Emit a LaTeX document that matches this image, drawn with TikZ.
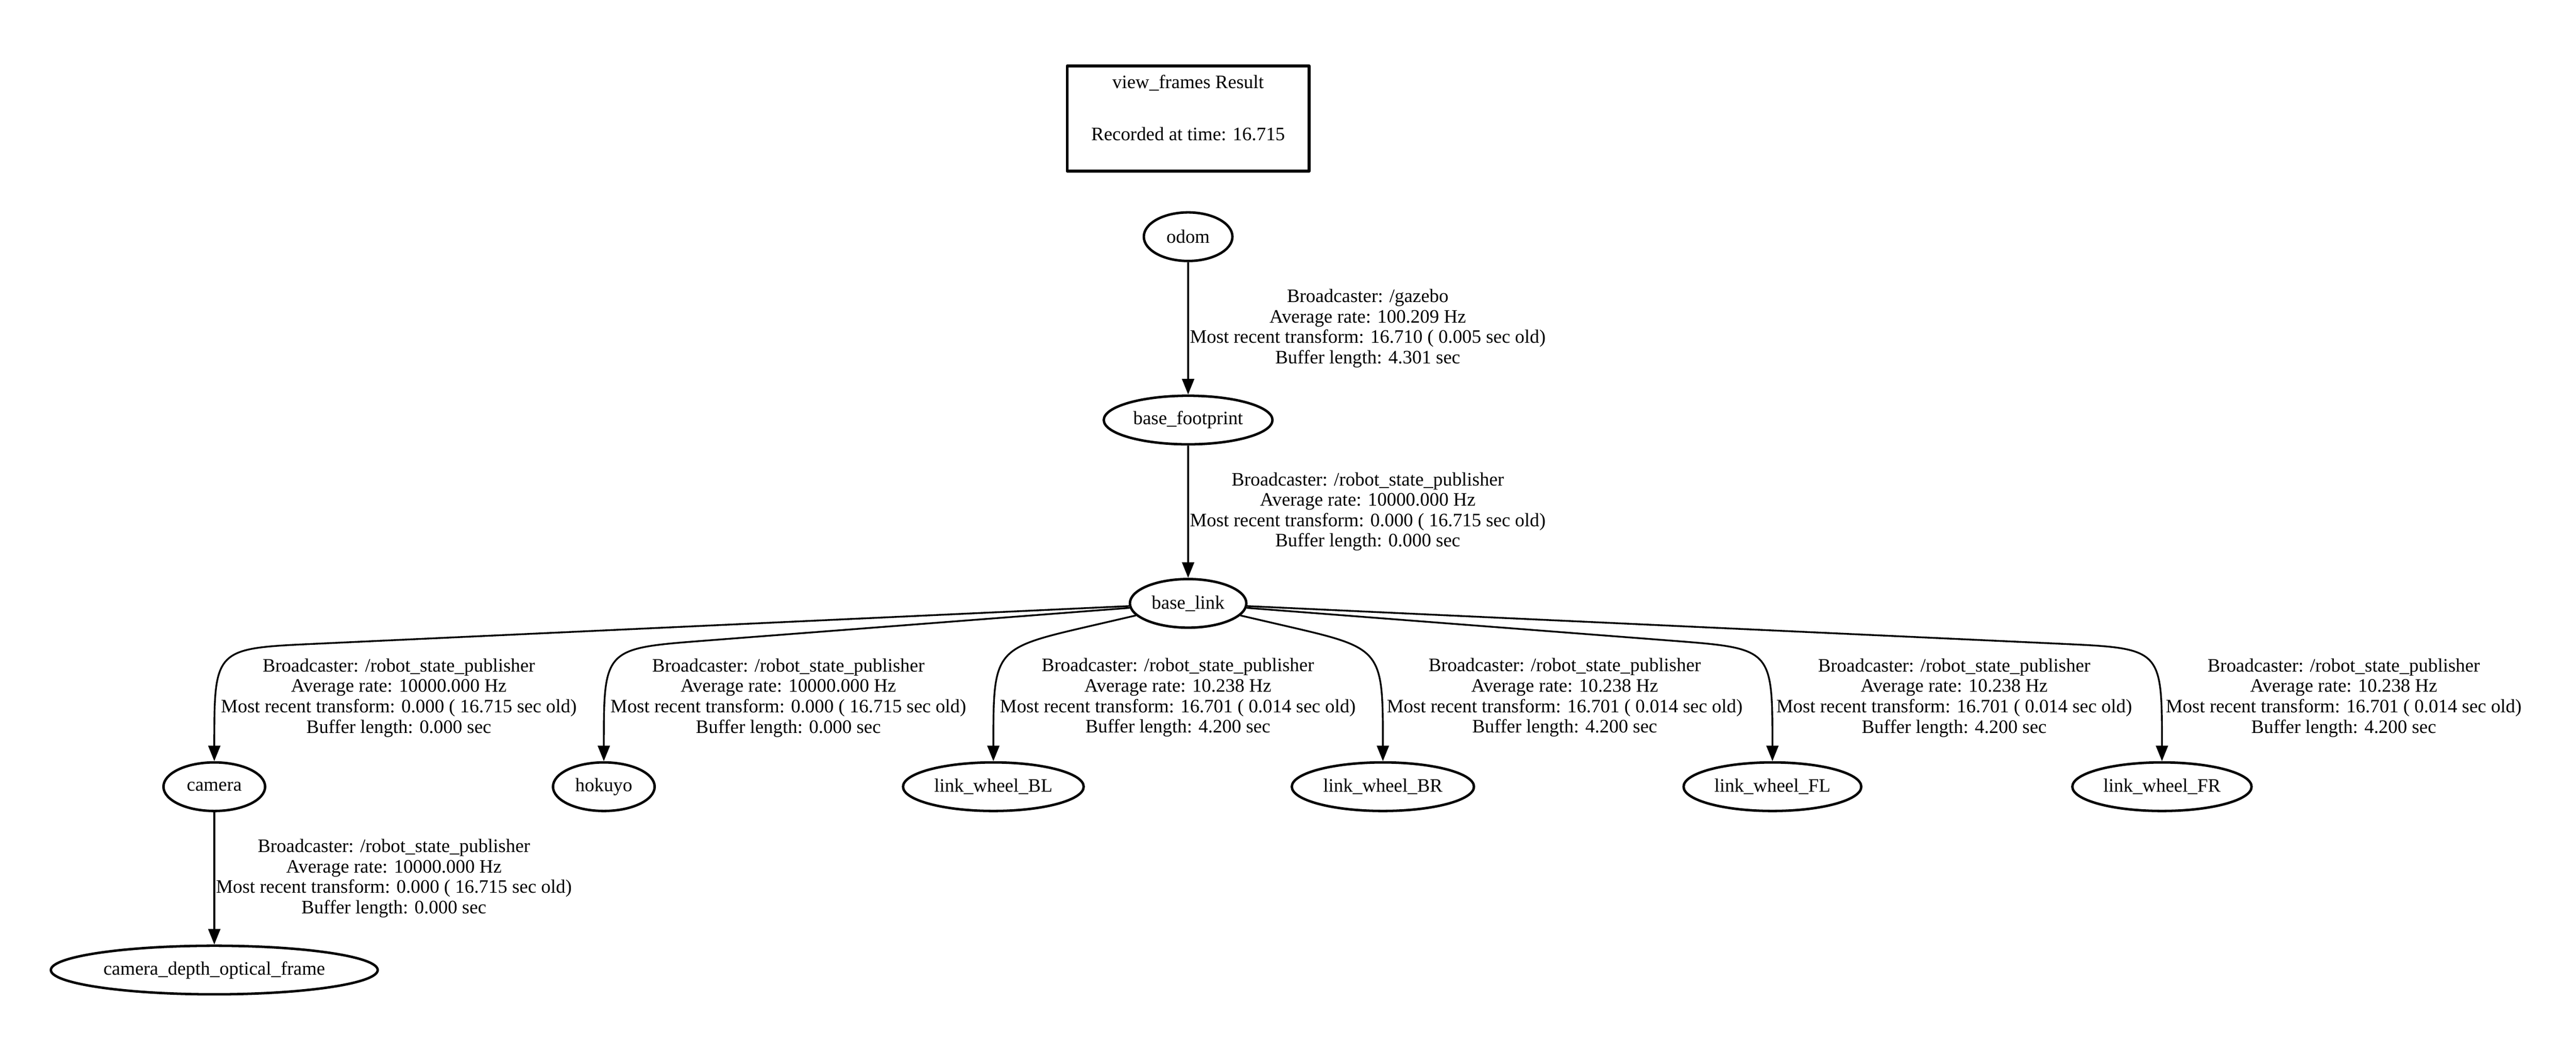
\documentclass[tikz,border=0pt]{standalone}
\usepackage{fontspec}
\setmainfont{Liberation Serif}
\usetikzlibrary{arrows.meta,shapes.geometric,calc}

\newcommand{\tfinfo}[5]{Broadcaster: #1\\Average rate: #2 Hz\\Most recent transform: #3 ( #4 sec old)\\Buffer length: #5 sec}

\begin{document}
\begin{tikzpicture}
		[font=\fontsize{10.8pt}{11.6pt}\selectfont,
		tfnode/.style={ellipse, draw, line width=1.4pt, minimum width=2.03cm,
			minimum height=0.97cm, inner xsep=2.7pt, inner ysep=1pt},
		tflabel/.style={anchor=west, align=center, inner sep=0.5pt},
		tfside/.style={tflabel, pos=.76, xshift=2pt},
		result/.style={draw, line width=1.7pt, line join=round, align=center,
			minimum width=4.83cm, minimum height=2.1cm},
		edge from parent/.style={draw, line width=1pt,
			-{Triangle[length=3.1mm, width=2.4mm]}},
		level distance=3.66cm,
		level 3/.style={sibling distance=7.78cm,
			edge from parent path={(\tikzparentnode) -- ($([yshift=2.25cm]\tikzchildnode.north)!2cm!(\tikzparentnode)$)
				.. controls ([yshift=2.25cm]\tikzchildnode.north) and ([yshift=2.25cm]\tikzchildnode.north) .. (\tikzchildnode.north)}},
		level 4/.style={edge from parent path={(\tikzparentnode) -- (\tikzchildnode)}}
		]
		\useasboundingbox (0,0) rectangle (51.45,-21);
		\node (title) [result] at (23.73,-2.365) {view\_frames Result\\[18.1pt]Recorded at time: 16.715\rule[-12.3pt]{0pt}{12.3pt}};
		\node (odom) [tfnode, minimum width=1.77cm] at (23.73,-4.725) {odom}
		child {node (footprint) [tfnode] {base\_footprint}
			child {node (baselink) [tfnode] {base\_link}
				child {node (camera) [tfnode] {camera}
					child {node (depthframe) [tfnode] {camera\_depth\_optical\_frame}
						edge from parent node[tflabel, pos=.5] {\tfinfo{/robot\_state\_publisher}{10000.000}{0.000}{16.715}{0.000}}
					}
					edge from parent node[tfside] {\tfinfo{/robot\_state\_publisher}{10000.000}{0.000}{16.715}{0.000}}
				}
				child {node (hokuyo) [tfnode] {hokuyo}
					edge from parent node[tfside] {\tfinfo{/robot\_state\_publisher}{10000.000}{0.000}{16.715}{0.000}}
				}
				child {node (wheelBL) [tfnode] {link\_wheel\_BL}
					edge from parent node[tfside] {\tfinfo{/robot\_state\_publisher}{10.238}{16.701}{0.014}{4.200}}
				}
				child {node (wheelBR) [tfnode] {link\_wheel\_BR}
					edge from parent node[tfside] {\tfinfo{/robot\_state\_publisher}{10.238}{16.701}{0.014}{4.200}}
				}
				child {node (wheelFL) [tfnode] {link\_wheel\_FL}
					edge from parent node[tfside] {\tfinfo{/robot\_state\_publisher}{10.238}{16.701}{0.014}{4.200}}
				}
				child {node (wheelFR) [tfnode] {link\_wheel\_FR}
					edge from parent node[tfside] {\tfinfo{/robot\_state\_publisher}{10.238}{16.701}{0.014}{4.200}}
				}
				edge from parent node[tflabel, pos=.5] {\tfinfo{/robot\_state\_publisher}{10000.000}{0.000}{16.715}{0.000}}
			}
			edge from parent node[tflabel, pos=.5] {\tfinfo{/gazebo}{100.209}{16.710}{0.005}{4.301}}
		};
\end{tikzpicture}
\end{document}
